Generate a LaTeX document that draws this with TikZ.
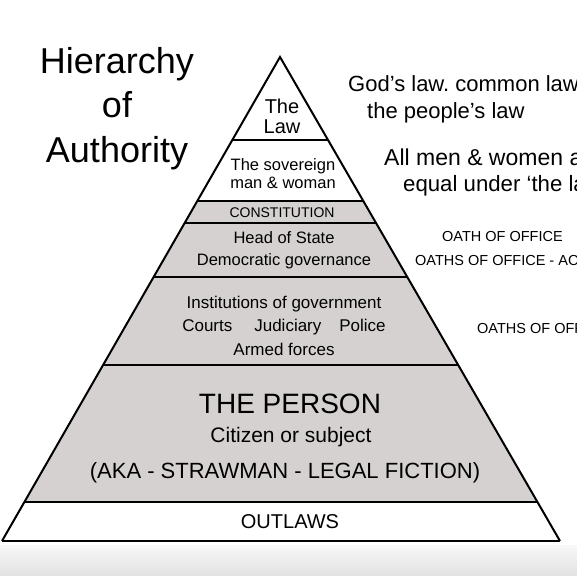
\documentclass[tikz,border=0pt]{standalone}
\usepackage{fontspec}
\setmainfont{Liberation Sans}
\usetikzlibrary{calc}
\definecolor{bandgray}{RGB}{214,209,209}
\newcommand{\fsz}[2]{\fontsize{#1}{#2}\selectfont}
\frenchspacing

\begin{document}
\begin{tikzpicture}[x=1pt, y=-1pt,
    lbl/.style={inner sep=0pt, anchor=base, align=center},
    side/.style={inner sep=0pt, anchor=base west},
    band/.style={line width=2.6pt}]
  \useasboundingbox (0,0) rectangle (577,575);
  \clip (0,0) rectangle (577,575);
  % strip of the screen under the picture
  \shade[top color=gray!6, bottom color=gray!22] (0,545) rectangle (577,575);

  \coordinate (apex) at (280,57);
  \coordinate (bl) at (2,541);
  \coordinate (br) at (560,541);

  % grey middle of the pyramid
  \fill[bandgray] ($(apex)!0.2975!(bl)$) -- ($(apex)!0.2975!(br)$)
    -- ($(apex)!0.9194!(br)$) -- ($(apex)!0.9194!(bl)$) -- cycle;
  \draw[line width=2pt] (bl) -- (apex) -- (br);
  \foreach \t in {0.1715,0.2975,0.343,0.4545,0.6364,0.9194,1}
    \draw[band] ($(apex)!\t!(bl)$) -- ($(apex)!\t!(br)$);

  % title (base = last line)
  \node[lbl, font=\fsz{36}{44.5}] (title) at (117,162) {Hierarchy\\of\\Authority};

  % levels
  \node[lbl, font=\fsz{20}{20}] (law) at (282,133) {The\\Law};
  \node[lbl, font=\fsz{16.5}{18}] (sovereign) at (283,188) {The sovereign\\man \& woman};
  \node[lbl, font=\fsz{14}{16}] (constitution) at (282,217) {CONSTITUTION};
  \node[lbl, font=\fsz{16.5}{22}] (state) at (284,265) {Head of State\\Democratic governance};
  \node[lbl, font=\fsz{17}{23.5}] (institutions) at (284,355)
    {Institutions of government\\Courts\hspace{22pt}Judiciary\hspace{18pt}Police\\Armed forces};
  \node[lbl, font=\fsz{28}{30}] (person) at (290,413) {THE PERSON};
  \node[lbl, font=\fsz{21}{24}] (citizen) at (291,442) {Citizen or subject};
  \node[lbl, font=\fsz{22}{24}] (aka) at (285,478) {(AKA - STRAWMAN - LEGAL FICTION)};
  \node[lbl, font=\fsz{20}{22}] (outlaws) at (290,528) {OUTLAWS};

  % notes on the right
  \node[side, font=\fsz{22}{24}] (godslaw) at (348,92) {God’s law. common law};
  \node[side, font=\fsz{22}{24}] (peopleslaw) at (367,118) {the people’s law};
  \node[side, font=\fsz{23}{24}] (allmen) at (384,165) {All men \& women are};
  \node[side, font=\fsz{22.2}{24}] (equal) at (403,191) {equal under ‘the law’};
  \node[side, font=\fsz{14.5}{16}] (oath) at (442,241) {OATH OF OFFICE};
  \node[side, font=\fsz{14.5}{16}] (oaths) at (415,265) {OATHS OF OFFICE - AC};
  \node[side, font=\fsz{14.5}{16}] (oathsinst) at (477,333) {OATHS OF OFFICE};
\end{tikzpicture}
\end{document}
